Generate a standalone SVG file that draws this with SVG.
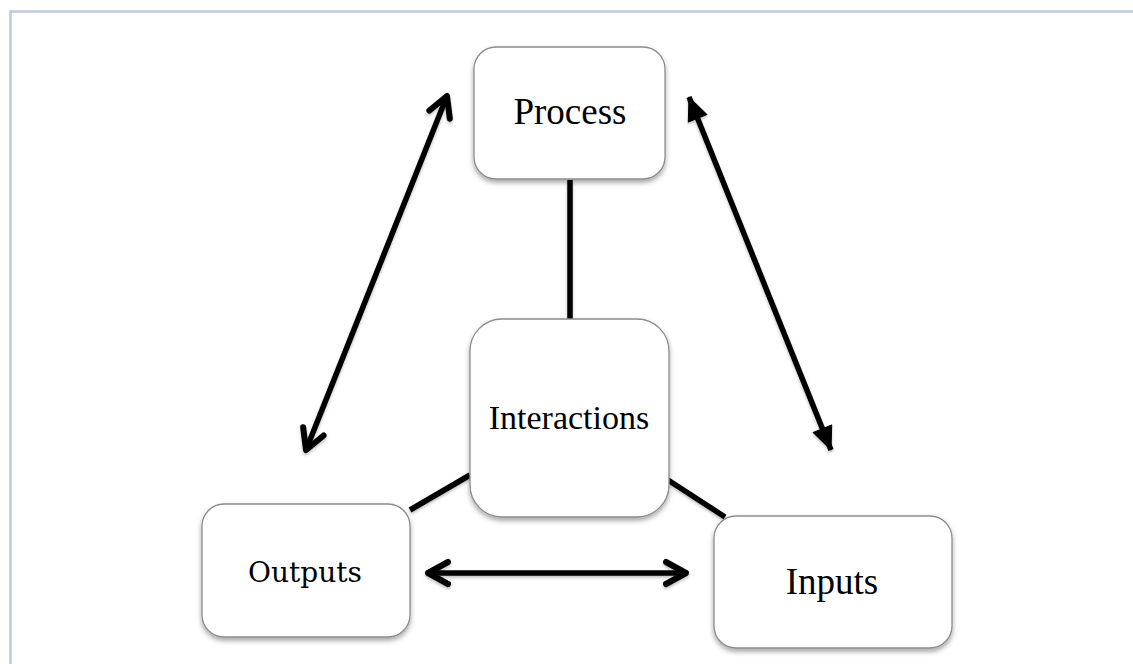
<svg xmlns="http://www.w3.org/2000/svg" width="1133" height="664" viewBox="0 0 1133 664">
  <style>
    .box { fill: #ffffff; stroke: #8c8c8c; stroke-width: 1.3; filter: url(#shadow); }
    .lbl { font-family: "Liberation Serif", "Times New Roman", serif; fill: #000; text-anchor: middle; }
    .lbl2 { font-family: "DejaVu Serif", "Liberation Serif", serif; fill: #000; text-anchor: middle; }
    .conn { stroke: #000; stroke-width: 5.5; fill: none; }
  </style>
  <defs>
    <filter id="shadow" x="-20%" y="-20%" width="140%" height="150%">
      <feDropShadow dx="0" dy="3" stdDeviation="2.5" flood-color="#000" flood-opacity="0.35"/>
    </filter>
    <filter id="lshadow" x="-20%" y="-20%" width="140%" height="150%">
      <feDropShadow dx="0" dy="2" stdDeviation="1.5" flood-color="#000" flood-opacity="0.25"/>
    </filter>
    <marker id="open" markerUnits="userSpaceOnUse" viewBox="-30 -20 40 40" refX="0" refY="0" markerWidth="40" markerHeight="40" orient="auto-start-reverse">
      <path d="M -20 -11 L 0 0 L -20 11" fill="none" stroke="#000" stroke-width="6" stroke-linecap="round" stroke-linejoin="round"/>
    </marker>
    <marker id="solid" markerUnits="userSpaceOnUse" viewBox="-30 -20 40 40" refX="0" refY="0" markerWidth="40" markerHeight="40" orient="auto-start-reverse">
      <path d="M -23 -10 L 0 0 L -23 10 Z" fill="#000" stroke="#000" stroke-width="1" stroke-linejoin="round"/>
    </marker>
  </defs>

  <rect x="0" y="0" width="1133" height="664" fill="#ffffff"/>
  <g id="frame">
    <path d="M 10.5 664 L 10.5 11.5 L 1133 11.5" fill="none" stroke="#bccadd" stroke-width="2.5"/>
  </g>

  <g id="connectors" filter="url(#lshadow)">
    <line class="conn" x1="570" y1="180" x2="570" y2="320"/>
    <line class="conn" x1="470" y1="475" x2="410" y2="510"/>
    <line class="conn" x1="668" y1="480" x2="725" y2="517"/>
    <line class="conn" x1="447" y1="96" x2="306" y2="450" marker-start="url(#open)" marker-end="url(#open)"/>
    <line class="conn" x1="689" y1="97" x2="831" y2="450" marker-start="url(#solid)" marker-end="url(#solid)"/>
    <line class="conn" x1="428" y1="573" x2="686" y2="573" marker-start="url(#open)" marker-end="url(#open)"/>
  </g>

  <g id="process">
    <rect class="box" x="474" y="47" width="191" height="132" rx="22"/>
    <text class="lbl" x="570" y="124" font-size="37">Process</text>
  </g>
  <g id="interactions">
    <rect class="box" x="470" y="319" width="199" height="198" rx="32"/>
    <text class="lbl" x="569" y="429" font-size="34">Interactions</text>
  </g>
  <g id="outputs">
    <rect class="box" x="202" y="504" width="208" height="133" rx="22"/>
    <text class="lbl2" x="305" y="582" font-size="28">Outputs</text>
  </g>
  <g id="inputs">
    <rect class="box" x="714" y="516" width="238" height="132" rx="22"/>
    <text class="lbl" x="832" y="594" font-size="37">Inputs</text>
  </g>
</svg>
